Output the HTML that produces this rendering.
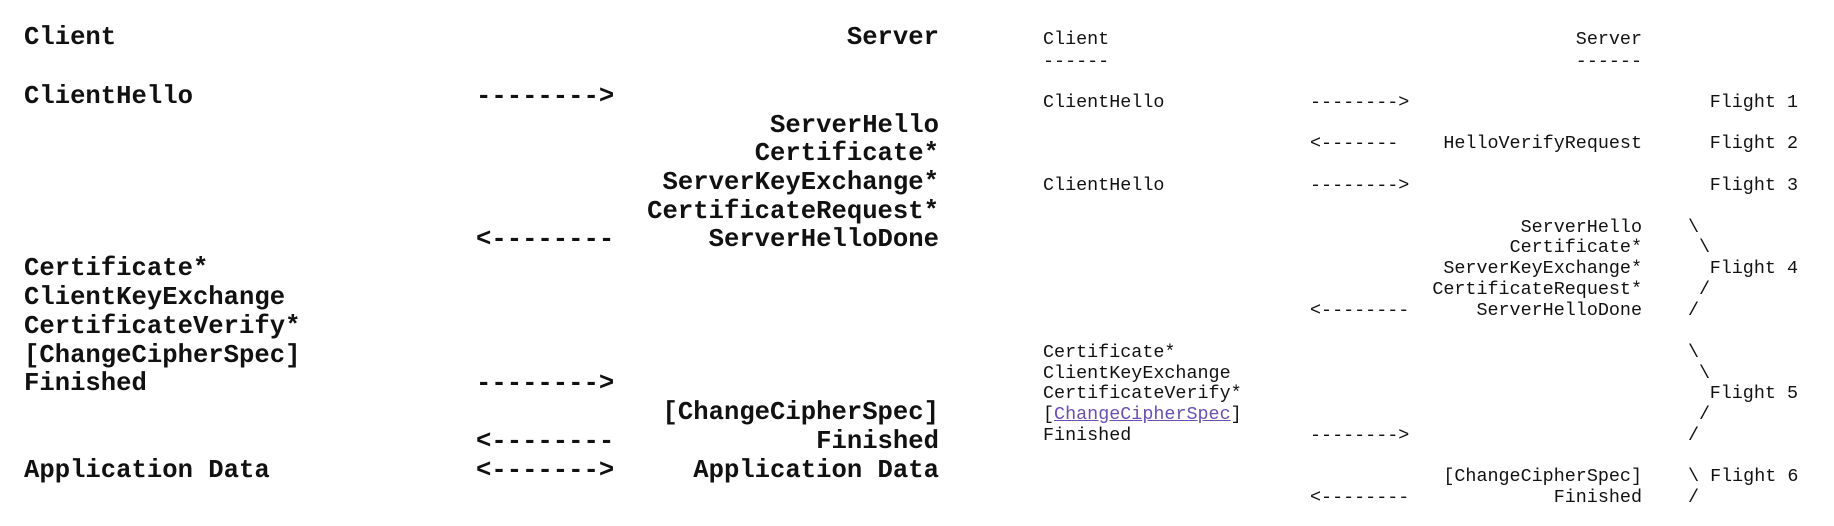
<!DOCTYPE html>
<html><head><meta charset="utf-8"><style>
html,body{margin:0;padding:0;background:#fff;}
body{width:1834px;height:526px;position:relative;overflow:hidden;color:#111;}
.a{position:absolute;white-space:pre;font-family:"Liberation Mono",monospace;}
.L{font-size:25.6px;font-weight:bold;line-height:28px;height:28px;}
.R{font-size:18.4px;line-height:20px;height:20px;}
a{color:#6a4fb0;text-decoration:underline;}
</style></head><body>
<!-- Left panel -->
<div class="a L" style="left:24px;top:24px">Client</div>
<div class="a L" style="right:895px;top:24px">Server</div>
<div class="a L" style="left:24px;top:83px">ClientHello</div>
<div class="a L" style="left:476px;top:83px">--------&gt;</div>
<div class="a L" style="right:895px;top:112px">ServerHello</div>
<div class="a L" style="right:895px;top:140px">Certificate*</div>
<div class="a L" style="right:895px;top:169px">ServerKeyExchange*</div>
<div class="a L" style="right:895px;top:198px">CertificateRequest*</div>
<div class="a L" style="left:476px;top:226px">&lt;--------</div>
<div class="a L" style="right:895px;top:226px">ServerHelloDone</div>
<div class="a L" style="left:24px;top:255px">Certificate*</div>
<div class="a L" style="left:24px;top:284px">ClientKeyExchange</div>
<div class="a L" style="left:24px;top:313px">CertificateVerify*</div>
<div class="a L" style="left:24px;top:342px">[ChangeCipherSpec]</div>
<div class="a L" style="left:24px;top:370px">Finished</div>
<div class="a L" style="left:476px;top:370px">--------&gt;</div>
<div class="a L" style="right:895px;top:399px">[ChangeCipherSpec]</div>
<div class="a L" style="left:476px;top:428px">&lt;--------</div>
<div class="a L" style="right:895px;top:428px">Finished</div>
<div class="a L" style="left:24px;top:457px">Application Data</div>
<div class="a L" style="left:476px;top:457px">&lt;-------&gt;</div>
<div class="a L" style="right:895px;top:457px">Application Data</div>

<!-- Right panel -->
<div class="a R" style="left:1043px;top:30px">Client</div>
<div class="a R" style="left:1043px;top:52px">------</div>
<div class="a R" style="right:192px;top:30px">Server</div>
<div class="a R" style="right:192px;top:52px">------</div>

<div class="a R" style="left:1043px;top:93px">ClientHello</div>
<div class="a R" style="left:1310px;top:93px">--------&gt;</div>
<div class="a R" style="right:36px;top:93px">Flight 1</div>

<div class="a R" style="left:1310px;top:134px">&lt;-------</div>
<div class="a R" style="right:192px;top:134px">HelloVerifyRequest</div>
<div class="a R" style="right:36px;top:134px">Flight 2</div>

<div class="a R" style="left:1043px;top:176px">ClientHello</div>
<div class="a R" style="left:1310px;top:176px">--------&gt;</div>
<div class="a R" style="right:36px;top:176px">Flight 3</div>

<div class="a R" style="right:192px;top:218px">ServerHello</div>
<div class="a R" style="left:1688px;top:218px">\</div>
<div class="a R" style="right:192px;top:238px">Certificate*</div>
<div class="a R" style="left:1699px;top:238px">\</div>
<div class="a R" style="right:192px;top:259px">ServerKeyExchange*</div>
<div class="a R" style="right:36px;top:259px">Flight 4</div>
<div class="a R" style="right:192px;top:280px">CertificateRequest*</div>
<div class="a R" style="left:1699px;top:280px">/</div>
<div class="a R" style="left:1310px;top:301px">&lt;--------</div>
<div class="a R" style="right:192px;top:301px">ServerHelloDone</div>
<div class="a R" style="left:1688px;top:301px">/</div>

<div class="a R" style="left:1043px;top:343px">Certificate*</div>
<div class="a R" style="left:1688px;top:343px">\</div>
<div class="a R" style="left:1043px;top:364px">ClientKeyExchange</div>
<div class="a R" style="left:1699px;top:364px">\</div>
<div class="a R" style="left:1043px;top:384px">CertificateVerify*</div>
<div class="a R" style="right:36px;top:384px">Flight 5</div>
<div class="a R" style="left:1043px;top:405px">[<a>ChangeCipherSpec</a>]</div>
<div class="a R" style="left:1699px;top:405px">/</div>
<div class="a R" style="left:1043px;top:426px">Finished</div>
<div class="a R" style="left:1310px;top:426px">--------&gt;</div>
<div class="a R" style="left:1688px;top:426px">/</div>

<div class="a R" style="right:192px;top:467px">[ChangeCipherSpec]</div>
<div class="a R" style="left:1688px;top:467px">\ Flight 6</div>
<div class="a R" style="left:1310px;top:488px">&lt;--------</div>
<div class="a R" style="right:192px;top:488px">Finished</div>
<div class="a R" style="left:1688px;top:488px">/</div>
</body></html>
